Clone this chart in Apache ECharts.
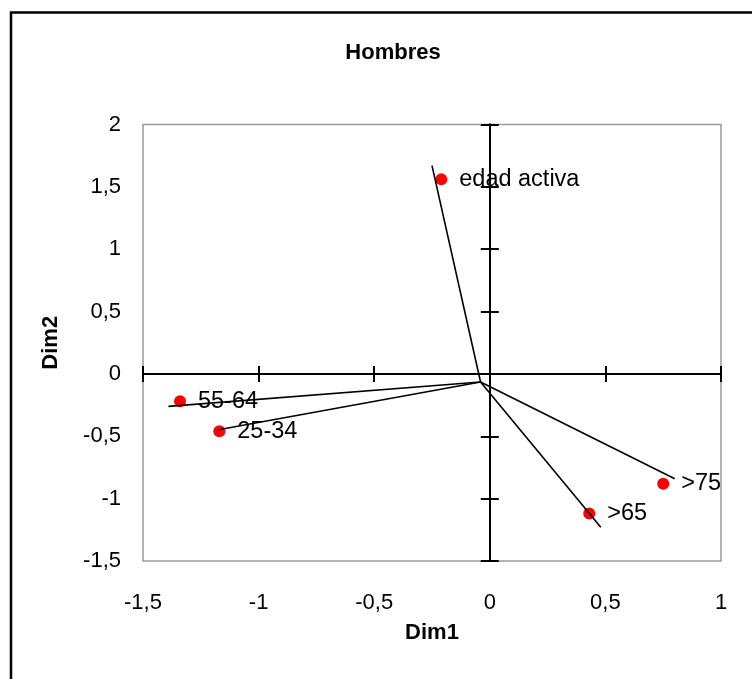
<!DOCTYPE html>
<html>
<head>
<meta charset="utf-8">
<script src="https://cdn.jsdelivr.net/npm/echarts@6/dist/echarts.min.js"></script>
<style>
  html, body { margin: 0; padding: 0; background: #fff; }
  #chart { width: 752px; height: 679px; }
</style>
</head>
<body>
<div id="chart"></div>
<script>
// puntos (coordenadas de las categorias)
const names = ['edad activa', '55-64', '25-34', '>65', '>75'];
const dim1 = [-0.21, -1.34, -1.17, 0.43, 0.75];
const dim2 = [1.56, -0.22, -0.46, -1.12, -0.88];
// vectores desde el origen
const vecOrigin = [-0.04, -0.065];
const vecDim1 = [-0.25, -1.39, -1.18, 0.48, 0.80];
const vecDim2 = [1.67, -0.26, -0.45, -1.23, -0.84];

const FONT = 'Liberation Sans, Arial, sans-serif';
const chart = echarts.init(document.getElementById('chart'));

const fmt = v => String(v).replace('.', ',');
const xBase = { type: 'value', min: -1.5, max: 1, interval: 0.5, splitLine: { show: false } };
const yBase = { type: 'value', min: -1.5, max: 2, interval: 0.5, splitLine: { show: false } };
const axisBlack = { color: '#000', width: 2 };

// ejes que pasan por cero (marcas a ambos lados)
function zeroX(inside) {
  return Object.assign({}, xBase, {
    position: 'bottom',
    axisLine: { show: true, onZero: true, onZeroAxisIndex: 0, lineStyle: axisBlack },
    axisTick: { show: true, inside: inside, length: 8, lineStyle: axisBlack },
    axisLabel: { show: false }
  });
}
function zeroY(inside) {
  return Object.assign({}, yBase, {
    position: 'left',
    axisLine: { show: true, onZero: true, onZeroAxisIndex: 0, lineStyle: axisBlack },
    axisTick: { show: true, inside: inside, length: 9, lineStyle: axisBlack },
    axisLabel: { show: false }
  });
}

const points = names.map((n, i) => [dim1[i], dim2[i], n]);
const vectors = names.map((n, i) => ({
  type: 'line',
  xAxisIndex: 0,
  yAxisIndex: 0,
  z: 5,
  silent: true,
  symbol: 'none',
  lineStyle: { color: '#000', width: 1.6 },
  data: [vecOrigin, [vecDim1[i], vecDim2[i]]]
}));

chart.setOption({
  animation: false,
  backgroundColor: '#fff',
  title: {
    text: 'Hombres',
    left: 388,
    top: 37,
    textAlign: 'center',
    textStyle: { fontFamily: FONT, fontSize: 22, fontWeight: 'bold', color: '#000' }
  },
  graphic: [{
    type: 'rect',
    shape: { x: 11, y: 12.5, width: 900, height: 900 },
    style: { fill: null, stroke: '#000', lineWidth: 2.5 },
    silent: true
  }],
  grid: {
    left: 143, top: 124.5, right: 31, bottom: 118,
    show: true, borderColor: '#9a9a9a', borderWidth: 1.5
  },
  xAxis: [
    Object.assign({}, xBase, {
      position: 'bottom',
      name: 'Dim1',
      nameLocation: 'middle',
      nameGap: 61,
      nameTextStyle: { fontFamily: FONT, fontSize: 22, fontWeight: 'bold', color: '#000' },
      axisLine: { show: false, onZero: false },
      axisTick: { show: false },
      axisLabel: { margin: 31, fontFamily: FONT, fontSize: 22, color: '#000', formatter: fmt }
    }),
    zeroX(true),
    zeroX(false)
  ],
  yAxis: [
    Object.assign({}, yBase, {
      position: 'left',
      name: 'Dim2',
      nameLocation: 'middle',
      nameGap: 81,
      nameTextStyle: { fontFamily: FONT, fontSize: 22, fontWeight: 'bold', color: '#000' },
      axisLine: { show: false, onZero: false },
      axisTick: { show: false },
      axisLabel: { margin: 22, fontFamily: FONT, fontSize: 22, color: '#000', formatter: fmt }
    }),
    zeroY(true),
    zeroY(false)
  ],
  series: [{
    type: 'scatter',
    xAxisIndex: 0,
    yAxisIndex: 0,
    z: 3,
    symbolSize: 12,
    itemStyle: { color: '#ff0000', opacity: 1 },
    label: {
      show: true,
      position: 'right',
      distance: 12,
      fontFamily: FONT,
      fontSize: 23.5,
      color: '#000',
      formatter: p => p.data[2]
    },
    data: points
  }].concat(vectors)
});
</script>
</body>
</html>
